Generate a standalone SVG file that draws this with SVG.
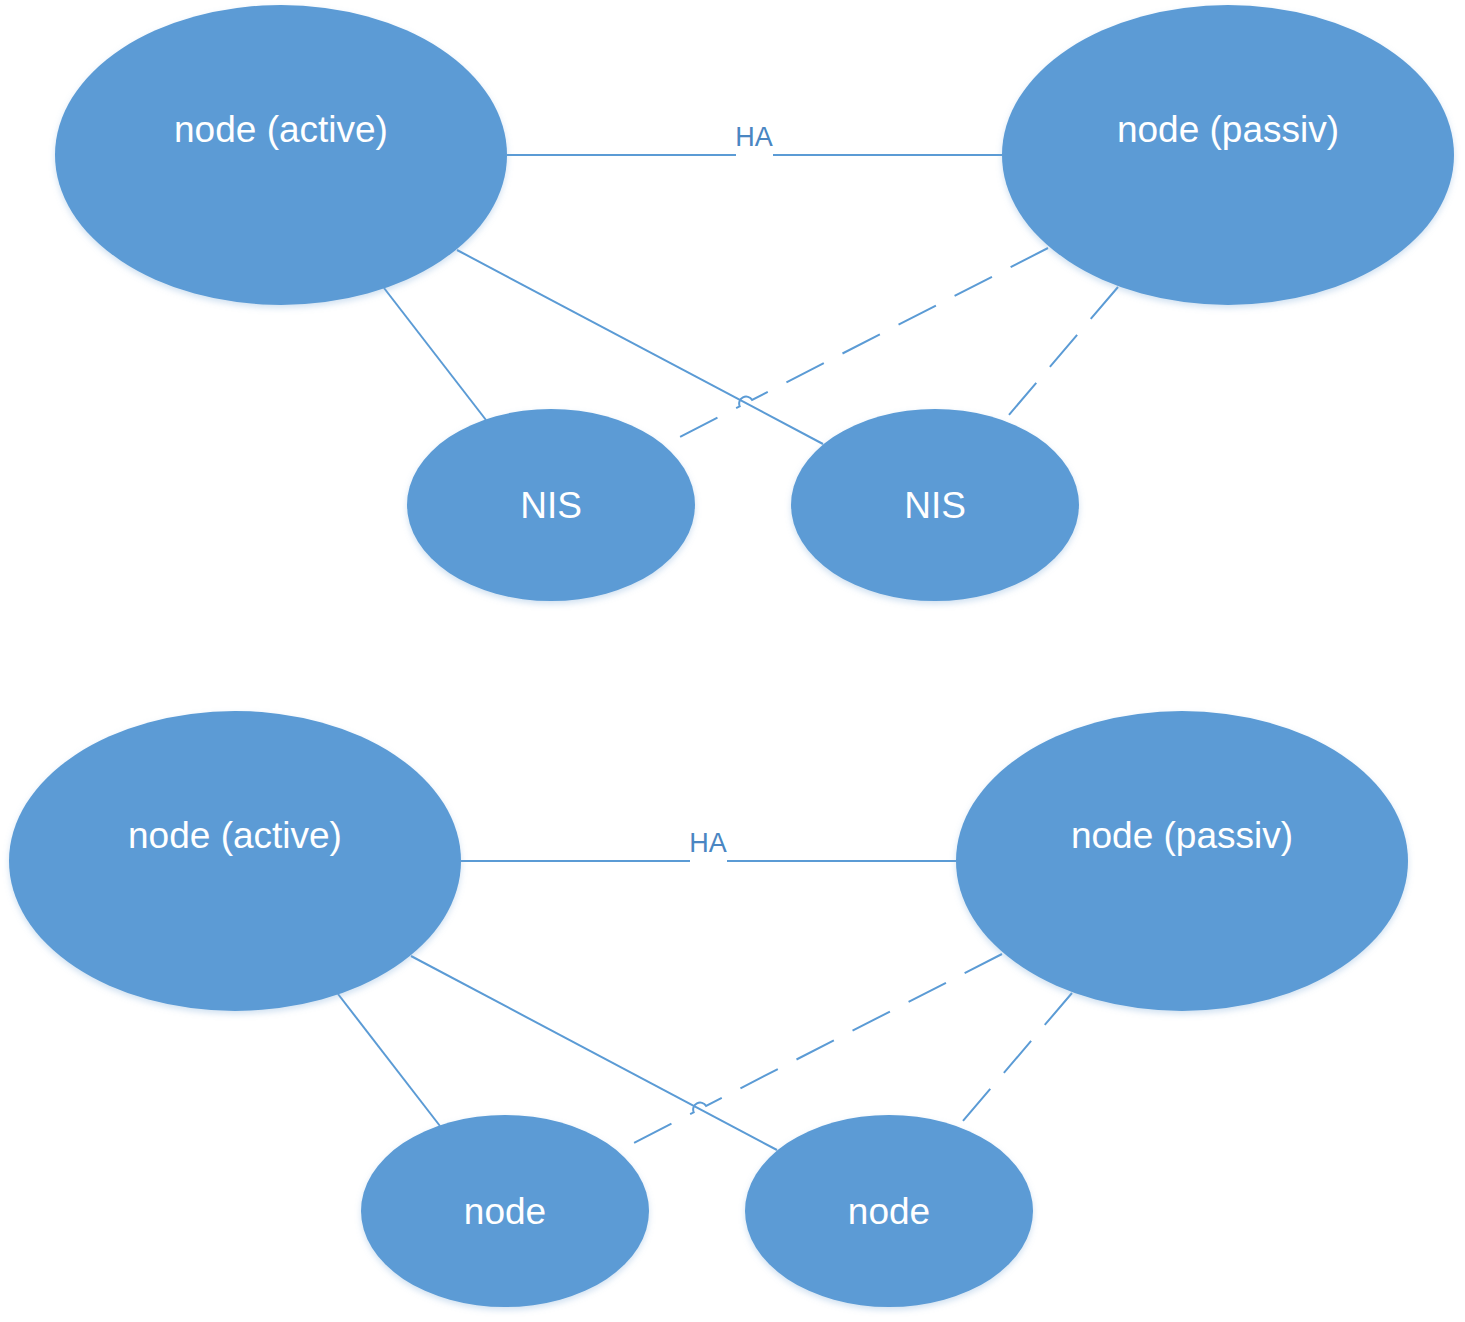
<svg xmlns="http://www.w3.org/2000/svg" width="1465" height="1322" viewBox="0 0 1465 1322">
<style>
.n{fill:#5b9bd5;filter:url(#sh)}
.t{fill:#ffffff;font-family:"Liberation Sans",Arial,sans-serif;font-size:37px;text-anchor:middle}
.c{fill:none;stroke:#5b9bd5;stroke-width:2}
.d{stroke-dasharray:42 21}
.l{fill:#4a86c2;font-family:"Liberation Sans",Arial,sans-serif;font-size:27px;text-anchor:middle}
</style>
<defs>
<filter id="sh" x="-10%" y="-10%" width="120%" height="125%">
<feDropShadow dx="0" dy="3" stdDeviation="3" flood-color="#7aa7d6" flood-opacity="0.35"/>
</filter>
</defs>
<rect width="1465" height="1322" fill="#ffffff"/>
<g id="connectors">
<path class="c" d="M507,155 H736 M773,155 H1002"/>
<text class="l" x="754" y="146">HA</text>
<path class="c" d="M384,288 L486,420"/>
<path class="c" d="M457,250 L823,444"/>
<path class="c d" d="M1048,248 L752.1,399.9 A7,7 0 0 0 739.7,406.3 L678,438"/>
<path class="c d" d="M1118,287 L1008,416"/>
<path class="c" d="M461,861 H690 M727,861 H956"/>
<text class="l" x="708" y="852">HA</text>
<path class="c" d="M338,994 L440,1126"/>
<path class="c" d="M411,956 L777,1150"/>
<path class="c d" d="M1002,954 L706.1,1105.9 A7,7 0 0 0 693.7,1112.3 L632,1144"/>
<path class="c d" d="M1072,993 L962,1122"/>
</g>
<g id="active1"><ellipse class="n" cx="281" cy="155" rx="226" ry="150"/><text class="t" x="281" y="142">node (active)</text></g>
<g id="passive1"><ellipse class="n" cx="1228" cy="155" rx="226" ry="150"/><text class="t" x="1228" y="142">node (passiv)</text></g>
<g id="nis1"><ellipse class="n" cx="551" cy="505" rx="144" ry="96"/><text class="t" x="551" y="518">NIS</text></g>
<g id="nis2"><ellipse class="n" cx="935" cy="505" rx="144" ry="96"/><text class="t" x="935" y="518">NIS</text></g>
<g id="active2"><ellipse class="n" cx="235" cy="861" rx="226" ry="150"/><text class="t" x="235" y="848">node (active)</text></g>
<g id="passive2"><ellipse class="n" cx="1182" cy="861" rx="226" ry="150"/><text class="t" x="1182" y="848">node (passiv)</text></g>
<g id="node1"><ellipse class="n" cx="505" cy="1211" rx="144" ry="96"/><text class="t" x="505" y="1224">node</text></g>
<g id="node2"><ellipse class="n" cx="889" cy="1211" rx="144" ry="96"/><text class="t" x="889" y="1224">node</text></g>
</svg>
